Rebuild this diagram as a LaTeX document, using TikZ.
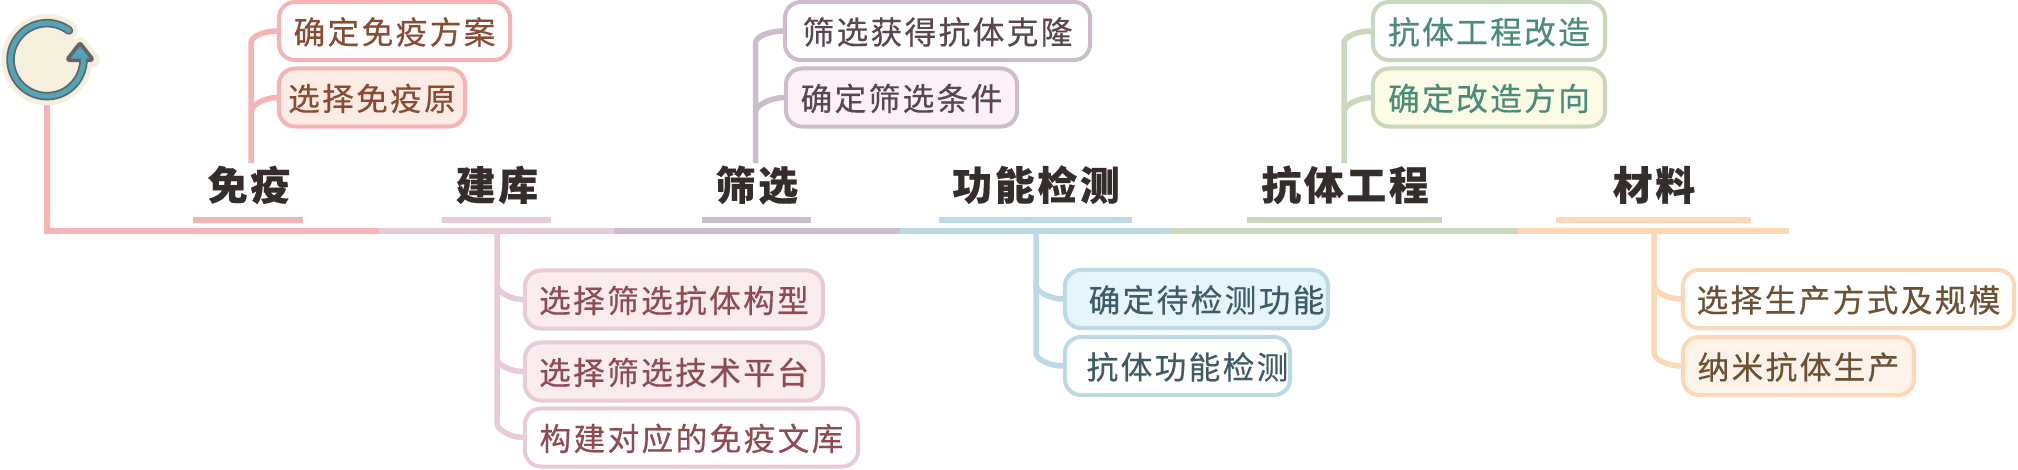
\documentclass[tikz,border=0pt]{standalone}
\usepackage{fontspec}
\newfontfamily\cjkleaf[LetterSpace=7.5,FakeBold=0.45]{Noto Sans CJK SC}
\newfontfamily\cjktitle[LetterSpace=7,FakeBold=0.4]{Noto Sans CJK SC}
\definecolor{lineA}{HTML}{F5B3B3}
\definecolor{lineB}{HTML}{E9CBD7}
\definecolor{lineC}{HTML}{CDBCCB}
\definecolor{lineD}{HTML}{BBDAE5}
\definecolor{lineE}{HTML}{C9D7BD}
\definecolor{lineF}{HTML}{FCD8B6}
\definecolor{textA}{HTML}{8B4A32}
\definecolor{textB}{HTML}{8F4A52}
\definecolor{textC}{HTML}{5A4550}
\definecolor{textD}{HTML}{3E5B66}
\definecolor{textE}{HTML}{4A8C7A}
\definecolor{textF}{HTML}{6E5033}
\definecolor{fillA}{HTML}{FDECE4}
\definecolor{fillB}{HTML}{FBECEE}
\definecolor{fillC}{HTML}{FBF1F7}
\definecolor{fillD}{HTML}{E6F4FC}
\definecolor{fillE}{HTML}{FCFBE6}
\definecolor{fillF}{HTML}{FDF3EB}
\definecolor{titletext}{HTML}{342D2B}
\definecolor{iconbg}{HTML}{F5EFDE}
\definecolor{iconblue}{HTML}{4FA6B8}
\definecolor{icondark}{HTML}{666266}
\tikzset{
leaf/.style={draw,rounded corners=1.6mm,line width=0.4mm,inner xsep=0pt,inner ysep=0pt,
 minimum height=0.58cm,text height=0.83em,text depth=0.09em,font=\cjkleaf\fontsize{9}{11}\selectfont},
leafA/.style={leaf,draw=lineA,text=textA},
leafB/.style={leaf,draw=lineB,text=textB},
leafC/.style={leaf,draw=lineC,text=textC},
leafD/.style={leaf,draw=lineD,text=textD},
leafE/.style={leaf,draw=lineE,text=textE},
leafF/.style={leaf,draw=lineF,text=textF},
title/.style={text=titletext,text height=0.83em,text depth=0.09em,inner sep=0pt,
 font=\cjktitle\bfseries\fontsize{11.3}{13}\selectfont},
spine/.style={line width=0.6mm},
branch/.style={line width=0.55mm}
}
\begin{document}
\begin{tikzpicture}[x=0.01cm,y=-0.01cm]
\useasboundingbox (0,0) rectangle (2018,469);
% points on the main line
\coordinate (S1) at (379,231);
\coordinate (S2) at (614,231);
\coordinate (S3) at (900,231);
\coordinate (S4) at (1172,231);
\coordinate (S5) at (1518,231);
\coordinate (S6) at (1789,231);
\coordinate (B2) at (497,231);
\coordinate (B4) at (1036,231);
\coordinate (B6) at (1654,231);
\coordinate (T1) at (251,163);
\coordinate (T3) at (755.5,163);
\coordinate (T5) at (1344,163);
% icon
\node[circle,minimum size=0.9cm,inner sep=0pt] (icon) at (47,59.5) {};
\draw[line width=0.6mm,lineA] (icon.south)|-(S1);
\fill[iconbg] (icon) circle (34);
\draw[iconbg,line width=1.8mm,line cap=round] (69,30.5) arc[radius=36.5,start angle=-53,end angle=-360];
\draw[iconbg,fill=iconbg,line width=1.4mm,line join=round] (80,44)--(93,60)--(67,60)--cycle;
\draw[icondark,line width=0.85mm,line cap=round] (69,30.5) arc[radius=36.5,start angle=-53,end angle=-360];
\draw[icondark,fill=icondark,line width=0.6mm,line join=round] (80,45)--(91,59)--(69,59)--cycle;
\draw[iconblue,line width=0.5mm,line cap=round] (69,30.5) arc[radius=36.5,start angle=-53,end angle=-360];
\fill[iconblue] (80,46.5)--(89.5,58.5)--(70.5,58.5)--cycle;
% main line
\draw[spine,lineA] (47,231)--(S1);
\draw[spine,lineB] (S1)--(S2);
\draw[spine,lineC] (S2)--(S3);
\draw[spine,lineD] (S3)--(S4);
\draw[spine,lineE] (S4)--(S5);
\draw[spine,lineF] (S5)--(S6);
% titles
\node[title] (mianyi) at (249,187) {免疫};
\node[title] (jianku) at (497,187) {建库};
\node[title] (shaixuan) at (757,187) {筛选};
\node[title] (gongneng) at (1036,187) {功能检测};
\node[title] (gongcheng) at (1345,187) {抗体工程};
\node[title] (cailiao) at (1654,187) {材料};
\draw[spine,lineA] (193,220)--(303,220);
\draw[spine,lineB] (442,220)--(551,220);
\draw[spine,lineC] (702,220)--(811,220);
\draw[spine,lineD] (939,220)--(1132,220);
\draw[spine,lineE] (1247,220)--(1442,220);
\draw[spine,lineF] (1556,220)--(1751,220);
% upper leaves
\node[leafA,minimum width=2.31cm,fill=white] (a1) at (394.5,31) {确定免疫方案};
\node[leafA,minimum width=1.86cm,fill=fillA] (a2) at (372,97.5) {选择免疫原};
\node[leafC,minimum width=3.05cm,fill=white] (c1) at (937.5,31) {筛选获得抗体克隆};
\node[leafC,minimum width=2.31cm,fill=fillC] (c2) at (901.5,97.5) {确定筛选条件};
\node[leafE,minimum width=2.32cm,fill=white] (e1) at (1489,31) {抗体工程改造};
\node[leafE,minimum width=2.32cm,fill=fillE] (e2) at (1489,97.5) {确定改造方向};
% lower leaves
\node[leafB,minimum width=2.98cm,fill=fillB] (b1) at (674,299.5) {选择筛选抗体构型};
\node[leafB,minimum width=2.98cm,fill=fillB] (b2) at (674,371.5) {选择筛选技术平台};
\node[leafB,minimum width=3.33cm,fill=white] (b3) at (691.5,437.5) {构建对应的免疫文库};
\node[leafD,minimum width=2.63cm,fill=fillD] (d1) at (1196.5,299) {\hspace*{2mm}确定待检测功能};
\node[leafD,minimum width=2.25cm,fill=white] (d2) at (1177.5,366) {\hspace*{2mm}抗体功能检测};
\node[leafF,minimum width=3.31cm,fill=white] (f1) at (1848.5,299) {选择生产方式及规模};
\node[leafF,minimum width=2.31cm,fill=fillF] (f2) at (1798.5,366) {纳米抗体生产};
% branches
\draw[branch,lineA] (T1)--(251,43) .. controls +(0,-7) and +(-12,0) .. (a1.west);
\draw[branch,lineA] (251,112) .. controls +(0,-7) and +(-12,0) .. (a2.west);
\draw[branch,lineC] (T3)--(755.5,43) .. controls +(0,-7) and +(-12,0) .. (c1.west);
\draw[branch,lineC] (755.5,112) .. controls +(0,-7) and +(-12,0) .. (c2.west);
\draw[branch,lineE] (T5)--(1344,43) .. controls +(0,-7) and +(-12,0) .. (e1.west);
\draw[branch,lineE] (1344,112) .. controls +(0,-7) and +(-12,0) .. (e2.west);
\draw[branch,lineB] (B2)--(497,423) .. controls +(0,7) and +(-12,0) .. (b3.west);
\draw[branch,lineB] (497,285) .. controls +(0,7) and +(-12,0) .. (b1.west);
\draw[branch,lineB] (497,358) .. controls +(0,7) and +(-12,0) .. (b2.west);
\draw[branch,lineD] (B4)--(1036,353) .. controls +(0,7) and +(-12,0) .. (d2.west);
\draw[branch,lineD] (1036,285) .. controls +(0,7) and +(-12,0) .. (d1.west);
\draw[branch,lineF] (B6)--(1654,353) .. controls +(0,7) and +(-12,0) .. (f2.west);
\draw[branch,lineF] (1654,285) .. controls +(0,7) and +(-12,0) .. (f1.west);
\end{tikzpicture}
\end{document}
